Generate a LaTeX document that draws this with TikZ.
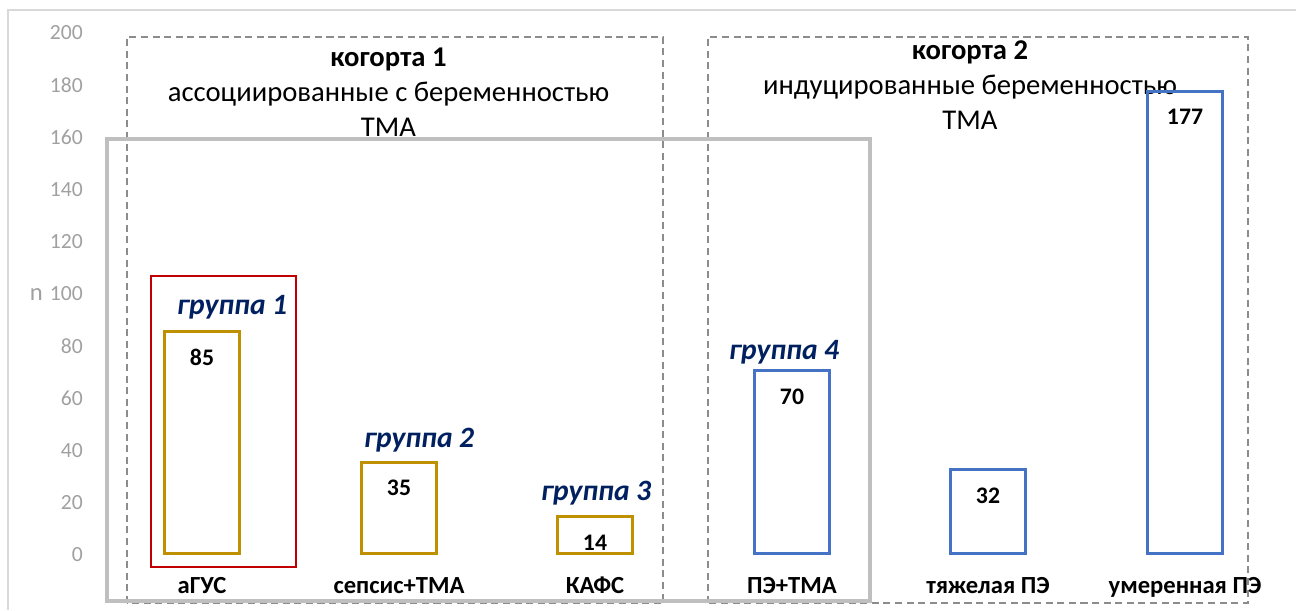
\documentclass[tikz,border=0pt]{standalone}
\usepackage{fontspec}
\setmainfont{Carlito}
\usetikzlibrary{positioning}
\definecolor{barGold}{HTML}{BF9000}
\definecolor{barBlue}{HTML}{4472C4}
\definecolor{grpRed}{HTML}{C00000}
\definecolor{grpNavy}{HTML}{002060}
\definecolor{axisGray}{HTML}{A0A0A0}
\definecolor{frameGray}{HTML}{BFBFBF}
\definecolor{dashGray}{HTML}{8C8C8C}
\tikzset{
    bar/.style={
        draw=#1,
        line width=1.7pt,
        minimum width=1.5cm,
        inner sep=0pt,
        anchor=south
    },
    valtext/.style={font=\fontsize{13.5}{16}\selectfont\bfseries},
    cattext/.style={anchor=base, font=\fontsize{14}{16}\selectfont\bfseries},
    grptext/.style={font=\fontsize{16.8}{19}\selectfont\bfseries\itshape, text=grpNavy},
    cohort/.style={draw=dashGray, line width=0.7pt, dash pattern=on 4pt off 2.6pt},
    cohorttext/.style={align=center, font=\fontsize{16.3}{20}\selectfont},
    ticktext/.style={anchor=east, text=axisGray, font=\fontsize{12.3}{14}\selectfont}
}

\begin{document}
\begin{tikzpicture}
  \useasboundingbox (0,0) rectangle (25.92,12.2);

  % chart frame
  \draw[draw=black!15, line width=0.8pt] (0.16,0) -- (0.16,12.0) -- (25.92,12.0);

  % axis
  \foreach \v in {0,20,...,200}
    \node[ticktext] (t\v) at (1.78,1.1+0.0522*\v) {\v};
  \node[ticktext, font=\fontsize{14}{16}\selectfont] (n) at (0.98,6.3) {n};

  % cohorts
  \draw[cohort] (2.54,0.14) rectangle (13.26,11.46);
  \draw[cohort] (14.16,0.14) rectangle (24.96,11.46);
  \node[cohorttext] (k1) at (7.77,10.36) {\textbf{когорта 1}\\ассоциированные с беременностью\\ТМА};
  \node[cohorttext] (k2) at (19.4,10.5) {\textbf{когорта 2}\\индуцированные беременностью\\ТМА};

  % TMA frame and group 1 frame
  \draw[draw=frameGray, line width=2.2pt] (2.14,0.18) rectangle (17.4,9.42);
  \draw[draw=grpRed, line width=1.1pt] (3.02,0.86) rectangle (5.92,6.68);

  % bars
  \foreach \i/\x/\v/\c/\lbl in {1/4.04/85/barGold/аГУС,
                               2/7.98/35/barGold/сепсис+ТМА,
                               3/11.9/14/barGold/КАФС,
                               4/15.84/70/barBlue/ПЭ+ТМА,
                               5/19.76/32/barBlue/тяжелая ПЭ,
                               6/23.7/177/barBlue/умеренная ПЭ}
  {
    \node[bar=\c, minimum height=0.0522*\v cm] (b\i) at (\x,1.1) {};
    \node[valtext] (v\i) at ([yshift=-0.54cm]b\i.north) {\v};
    \node[cattext] (c\i) at ([yshift=-0.76cm]b\i.south) {\lbl};
  }

  % groups
  \node[grptext] (g1) at (4.64,6.06) {группа 1};
  \node[grptext] (g2) at (8.38,3.4) {группа 2};
  \node[grptext] (g3) at (11.92,2.34) {группа 3};
  \node[grptext] (g4) at (15.68,5.16) {группа 4};
\end{tikzpicture}
\end{document}
